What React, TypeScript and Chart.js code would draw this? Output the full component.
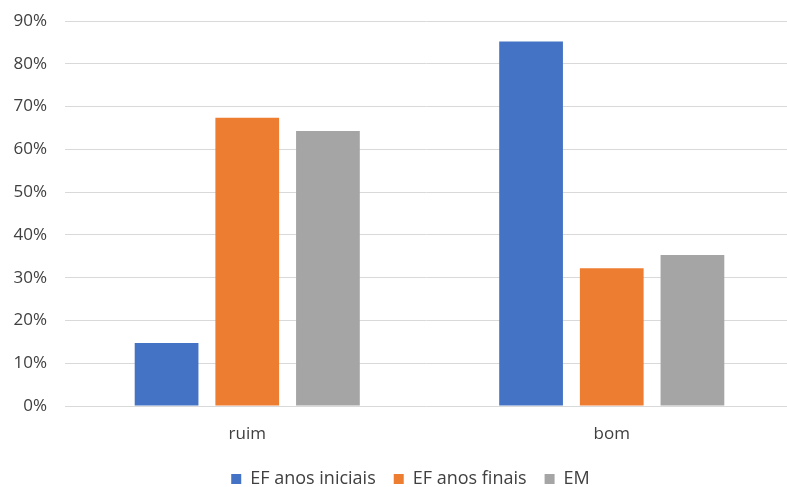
import React, { useEffect, useRef } from "react";
import { Chart, registerables } from "chart.js";

Chart.register(...registerables);

// Categories and series (shares as fractions of 1)
const categories = ["ruim", "bom"];
const seriesNames = ["EF anos iniciais", "EF anos finais", "EM"];
const efAnosIniciais = [0.147, 0.852];
const efAnosFinais = [0.674, 0.322];
const ensinoMedio = [0.643, 0.353];
const seriesColors = ["#4472C4", "#ED7D31", "#A5A5A5"];

const FONT = "'Open Sans', 'Noto Sans', sans-serif";
const TEXT = "#404040";

// Plot frame: the plot runs a little past the right edge of the canvas,
// and the legend sits slightly right of centre near the bottom edge.
const PLOT_OVERHANG = 7;
const PLOT_TOP = 21;
const PLOT_BOTTOM = 406;
const LEGEND_TOP = 452;
const LEGEND_SHIFT = 17;

const layoutNudge = {
  id: "layoutNudge",
  afterLayout(chart: any) {
    const area = chart.chartArea;
    const x = chart.scales.x;
    if (x) {
      const h = x.height;
      x.right += PLOT_OVERHANG;
      x.width += PLOT_OVERHANG;
      x.top = PLOT_BOTTOM;
      x.bottom = PLOT_BOTTOM + h;
      x.configure();
    }
    const y = chart.scales.y;
    if (y) {
      y.top = PLOT_TOP;
      y.bottom = PLOT_BOTTOM;
      y.height = PLOT_BOTTOM - PLOT_TOP;
      y.configure();
    }
    area.right += PLOT_OVERHANG;
    area.width += PLOT_OVERHANG;
    area.top = PLOT_TOP;
    area.bottom = PLOT_BOTTOM;
    area.height = PLOT_BOTTOM - PLOT_TOP;
    const legend = chart.legend;
    if (legend) {
      const lh = legend.height;
      legend.left += LEGEND_SHIFT;
      legend.right += LEGEND_SHIFT;
      legend.top = LEGEND_TOP;
      legend.bottom = LEGEND_TOP + lh;
    }
  },
};

export default function App() {
  const canvasRef = useRef<HTMLCanvasElement | null>(null);

  useEffect(() => {
    const canvas = canvasRef.current;
    if (!canvas) return;
    const values = [efAnosIniciais, efAnosFinais, ensinoMedio];
    const chart = new Chart(canvas, {
      type: "bar",
      data: {
        labels: categories,
        datasets: seriesNames.map((name, i) => ({
          label: name,
          data: values[i],
          backgroundColor: seriesColors[i],
          borderWidth: 0,
          categoryPercentage: 0.664,
          barPercentage: 0.79,
        })),
      },
      plugins: [layoutNudge],
      options: {
        responsive: false,
        animation: false,
        maintainAspectRatio: false,
        layout: { padding: 0 },
        plugins: {
          tooltip: { enabled: false },
          legend: {
            position: "bottom",
            labels: {
              boxWidth: 10,
              boxHeight: 10,
              padding: 18,
              color: TEXT,
              font: { family: FONT, size: 18 },
            },
          },
        },
        scales: {
          x: {
            grid: { display: false },
            border: { display: false },
            ticks: {
              color: TEXT,
              padding: 10,
              font: { family: FONT, size: 17 },
            },
          },
          y: {
            min: 0,
            max: 0.9,
            grid: { color: "#d9d9d9", lineWidth: 1, drawTicks: false },
            border: { display: false },
            ticks: {
              stepSize: 0.1,
              padding: 18,
              color: TEXT,
              font: { family: FONT, size: 17 },
              callback: (v: any) => `${Math.round(Number(v) * 100)}%`,
            },
            afterFit: (s: any) => {
              s.width = 65;
            },
          },
        },
      },
    });
    return () => chart.destroy();
  }, []);

  return (
    <div
      style={{
        position: "fixed",
        left: 0,
        top: 0,
        width: 787,
        height: 487,
        background: "#ffffff",
      }}
    >
      <canvas ref={canvasRef} width={787} height={487} />
    </div>
  );
}
